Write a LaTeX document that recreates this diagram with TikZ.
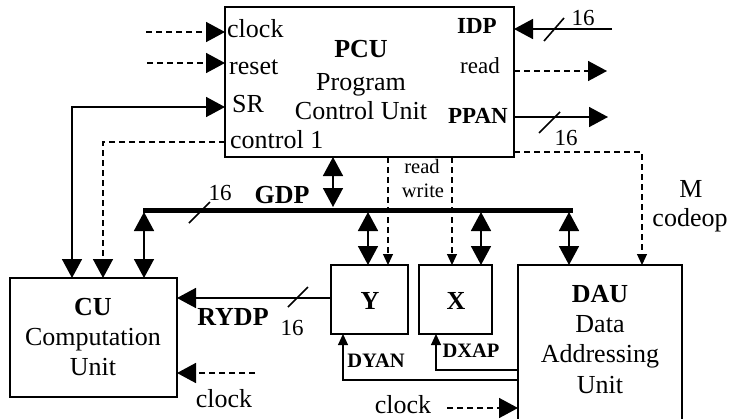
\documentclass[tikz,border=0pt]{standalone}
\usepackage{fontspec}
\setmainfont{Liberation Serif}
\usetikzlibrary{arrows.meta}

\begin{document}
\begin{tikzpicture}[x=1pt,y=-1pt,
  blk/.style={draw, line width=1.6pt, inner sep=0pt, outer sep=0pt},
  lbl/.style={inner sep=0pt, anchor=base, font=\fontsize{26}{31}\selectfont},
  lblw/.style={lbl, anchor=base west},
  lble/.style={lbl, anchor=base east},
  fmid/.style={font=\fontsize{23}{27}\selectfont},
  fsml/.style={font=\fontsize{20.5}{24}\selectfont},
  wire/.style={line width=1.6pt},
  thinwire/.style={line width=1.1pt},
  sig/.style={wire, dash pattern=on 6pt off 4pt},
  thinsig/.style={thinwire, dash pattern=on 6pt off 4pt},
  bus/.style={line width=5pt},
  BigTip/.tip={Triangle[length=19pt,width=20pt]},
  SmallTip/.tip={Triangle[length=11pt,width=10pt]},
]
\useasboundingbox (0,0) rectangle (734,418);

% ---- functional blocks
\node[blk, minimum width=289pt, minimum height=150pt] (pcu) at (369.5,82) {};
\node[blk, minimum width=167pt, minimum height=119pt] (cu) at (93.5,337.5) {};
\node[blk, minimum width=77pt, minimum height=69pt] (ybox) at (369.5,299.5) {};
\node[blk, minimum width=73pt, minimum height=69pt] (xbox) at (455.5,299.5) {};
\node[blk, minimum width=164pt, minimum height=175pt] (dau) at (600,352.5) {};

% ---- PCU labels
\node[lblw] (tclk) at (227,37) {clock};
\node[lblw] (trst) at (229,74) {reset};
\node[lblw] (tsr) at (232,112) {SR};
\node[lblw] (tctl) at (230,148) {control 1};
\node[lbl] (tpcu) at (361,57) {\bfseries PCU};
\node[lbl] (tprog) at (361,90) {Program};
\node[lbl] (tcunit) at (361,119) {Control Unit};
\node[lble, fmid] (tidp) at (497,33) {\bfseries IDP};
\node[lble, fmid] (tread) at (500,73) {read};
\node[lble, fmid] (tppan) at (508,123) {\bfseries PPAN};

% ---- CU labels
\node[lbl] (tcu) at (93,315) {\bfseries CU};
\node[lbl] (tcomp) at (93,345) {Computation};
\node[lbl] (tunitc) at (93,375) {Unit};

% ---- register labels
\node[lbl] (ty) at (370,309) {\bfseries Y};
\node[lbl] (tx) at (456,309) {\bfseries X};

% ---- DAU labels
\node[lbl] (tdau) at (600,302) {\bfseries DAU};
\node[lbl] (tdata) at (600,332) {Data};
\node[lbl] (taddr) at (600,362) {Addressing};
\node[lbl] (tunitd) at (600,393) {Unit};

% ---- free wire ends
\coordinate (clkin) at (146,32);
\coordinate (rstin) at (147,63);
\coordinate (srbend) at (72,107);
\coordinate (ctlbend) at (103,142);
\coordinate (idpin) at (612,29);
\coordinate (rdout) at (607,71);
\coordinate (ppout) at (608,117);
\coordinate (mbend) at (642,152);
\coordinate (cuclk) at (255,373);
\coordinate (dauclk) at (447,408);

% ---- GDP bus and its taps
\coordinate (busL) at (143,210);
\coordinate (busR) at (573,210);
\draw[bus] (busL) -- (busR);
\coordinate (tapP) at (333,207);
\coordinate (tapC) at (144,212);
\coordinate (tapY) at (368,212);
\coordinate (tapX) at (481,212);
\coordinate (tapD) at (569,212);

% ---- PCU inputs and outputs
\draw[sig, -BigTip] (clkin) -- (pcu.west |- clkin);
\draw[sig, -BigTip] (rstin) -- (pcu.west |- rstin);
\draw[wire, BigTip-BigTip] (cu.north -| srbend) -- (srbend) -- (pcu.west |- srbend);
\draw[sig, -BigTip] (pcu.west |- ctlbend) -- (ctlbend) -- (cu.north -| ctlbend);
\draw[wire, -BigTip] (idpin) -- (pcu.east |- idpin);
\draw[sig, -BigTip] (pcu.east |- rdout) -- (rdout);
\draw[wire, -BigTip] (pcu.east |- ppout) -- (ppout);
\draw[thinsig, -SmallTip] (pcu.east |- mbend) -- (mbend) -- (dau.north -| mbend);

% bus width marks
\draw[wire] (544,41) -- (564,18);
\draw[wire] (539,133) -- (560,112);
\draw[wire] (189,223) -- (210,202);
\draw[wire] (288,307) -- (308,287);
\node[lbl, fmid] (n16a) at (583,25) {16};
\node[lbl, fmid] (n16b) at (566,145) {16};
\node[lbl, fmid] (n16c) at (220,200) {16};
\node[lbl, fmid] (n16d) at (292,335) {16};

% ---- bus connections
\draw[wire, BigTip-BigTip] (pcu.south -| tapP) -- (tapP);
\draw[wire, BigTip-BigTip] (tapC) -- (cu.north -| tapC);
\draw[wire, BigTip-BigTip] (tapY) -- (ybox.north -| tapY);
\draw[wire, BigTip-BigTip] (tapX) -- (xbox.north -| tapX);
\draw[wire, BigTip-BigTip] (tapD) -- (dau.north -| tapD);
\node[lbl] (tgdp) at (282,203) {\bfseries GDP};

% ---- read / write strobes
\draw[thinsig, -SmallTip] (pcu.south -| 388,0) -- (ybox.north -| 388,0);
\draw[thinsig, -SmallTip] (pcu.south -| 452,0) -- (xbox.north -| 452,0);
\node[lbl, fsml] (trd) at (422,173) {read};
\node[lbl, fsml] (twr) at (423,197) {write};
\node[lbl] (tm) at (691,197) {M};
\node[lbl] (tcodeop) at (690,226) {codeop};

% ---- RYDP, address paths, clocks
\draw[wire, -BigTip] (ybox.west |- 0,298) -- (cu.east |- 0,298);
\node[lbl] (trydp) at (233,325) {\bfseries RYDP};
\draw[thinwire, -SmallTip] (dau.west |- 0,380) -| (ybox.south -| 343,0);
\draw[thinwire, -SmallTip] (dau.west |- 0,370) -| (xbox.south -| 436,0);
\node[lbl, fsml] (tdyan) at (376,367) {\bfseries DYAN};
\node[lbl, fsml] (tdxap) at (471,357) {\bfseries DXAP};
\draw[sig, -BigTip] (cuclk) -- (cu.east |- cuclk);
\node[lbl] (tclkc) at (224,407) {clock};
\draw[sig, -BigTip] (dauclk) -- (dau.west |- dauclk);
\node[lbl] (tclkd) at (403,413) {clock};
\end{tikzpicture}
\end{document}
